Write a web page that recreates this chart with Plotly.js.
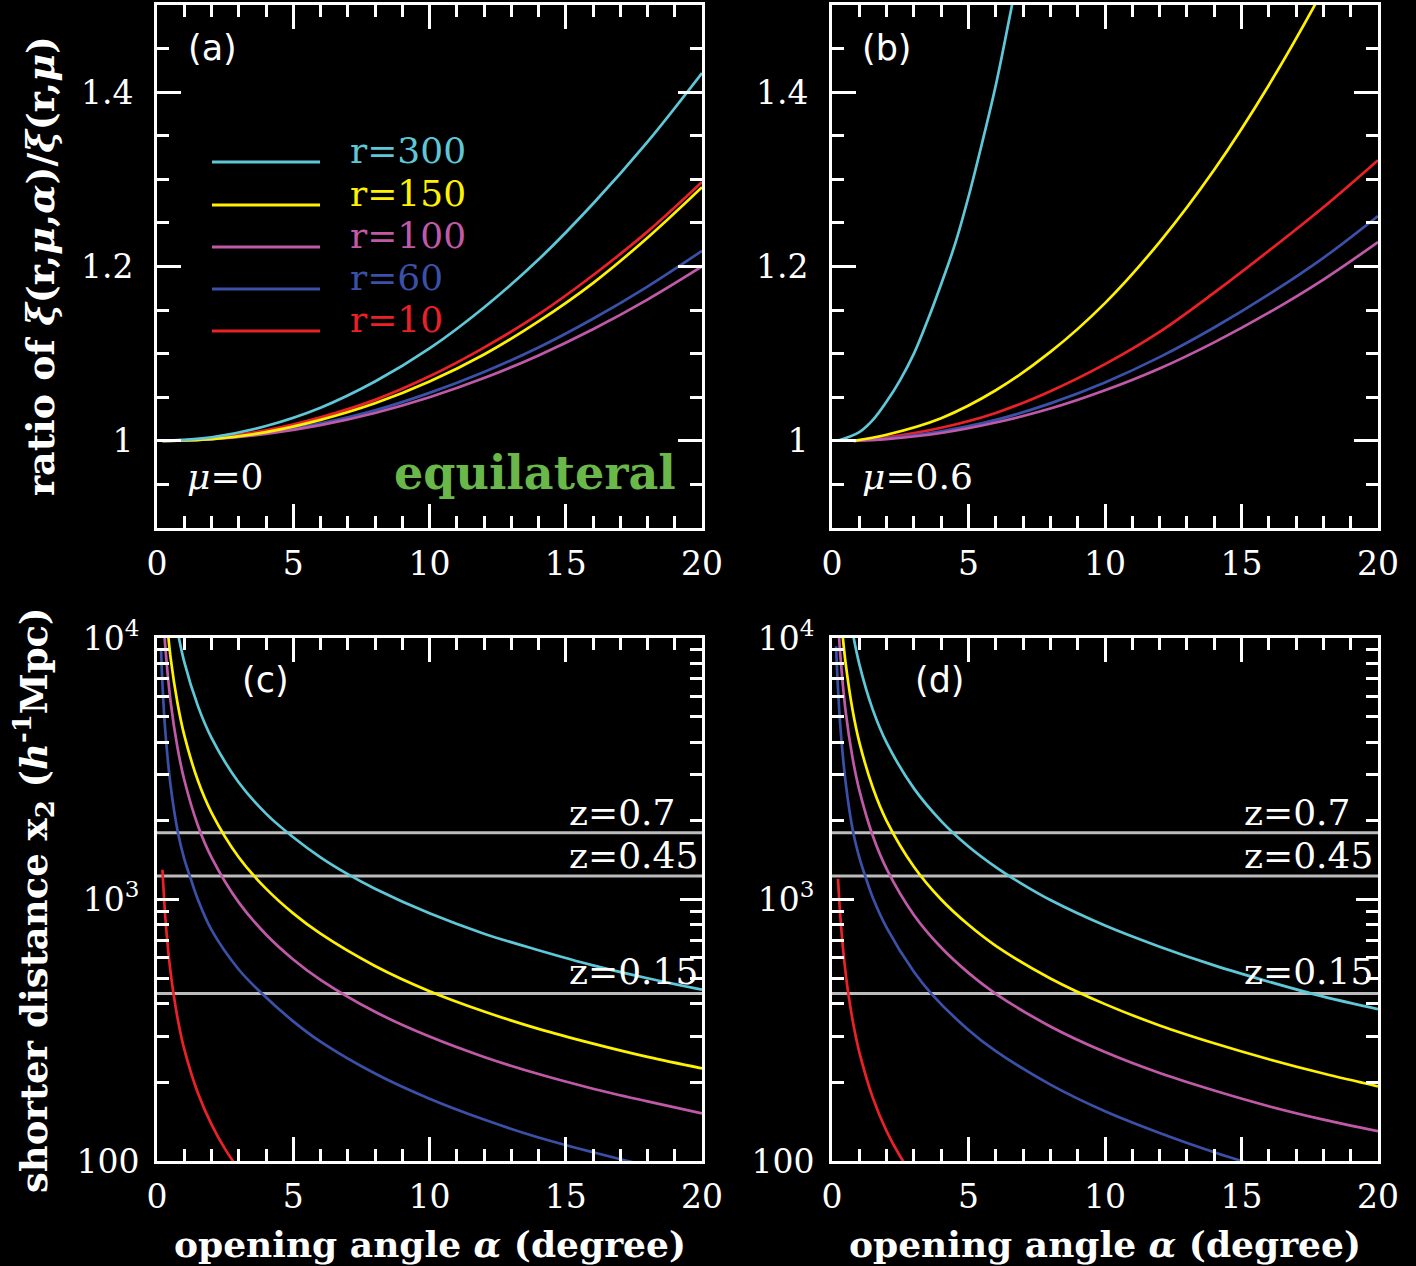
<!DOCTYPE html>
<html><head><meta charset="utf-8">
<script src="https://cdn.plot.ly/plotly-3.0.1.min.js"></script>
<style>html,body{margin:0;padding:0;background:#000;}</style>
</head><body><div id="chart" style="width:1416px;height:1266px;"></div>
<script>
// ---------------- data ----------------
const radiusLabels = ['r=300', 'r=150', 'r=100', 'r=60', 'r=10'];

// panel (a): mu = 0
const alphaA = [0.2, 2, 4, 6, 8, 10, 12, 14, 16, 18, 20];
const ratioA_r300 = [1, 1.004, 1.017, 1.038, 1.068, 1.106, 1.153, 1.208, 1.272, 1.343, 1.422];
const ratioA_r150 = [1, 1.002, 1.010, 1.024, 1.043, 1.068, 1.099, 1.137, 1.181, 1.233, 1.291];
const ratioA_r100 = [1, 1.002, 1.008, 1.018, 1.032, 1.050, 1.072, 1.098, 1.128, 1.162, 1.200];
const ratioA_r60  = [1, 1.002, 1.009, 1.020, 1.035, 1.055, 1.079, 1.107, 1.140, 1.177, 1.218];
const ratioA_r10  = [1, 1.003, 1.012, 1.027, 1.047, 1.074, 1.107, 1.145, 1.190, 1.240, 1.297];

// panel (b): mu = 0.6
const alphaB_r300 = [0.2, 1, 1.5, 2, 2.5, 3, 3.5, 4, 4.5, 5, 5.5, 6, 6.5, 7];
const ratioB_r300 = [1, 1.010, 1.024, 1.045, 1.070, 1.100, 1.138, 1.180, 1.225, 1.280, 1.342, 1.408, 1.485, 1.565];
const alphaB = [0.8, 2, 4, 6, 8, 10, 12, 14, 16, 18, 20];
const ratioB_r150 = [1, 1.007, 1.026, 1.058, 1.102, 1.158, 1.228, 1.311, 1.408, 1.518, 1.640];
const ratioB_r100 = [1, 1.002, 1.009, 1.021, 1.037, 1.058, 1.083, 1.113, 1.147, 1.185, 1.228];
const ratioB_r60  = [1, 1.003, 1.011, 1.024, 1.043, 1.067, 1.096, 1.130, 1.168, 1.210, 1.258];
const ratioB_r10  = [1, 1.004, 1.015, 1.032, 1.057, 1.088, 1.125, 1.170, 1.218, 1.268, 1.322];

// panel (c): shorter distance x2, mu = 0
const alphaC_r300 = [0.7, 1, 1.5, 2, 3, 4, 5, 6, 7, 8, 10, 12, 14, 16, 18, 20];
const distC_r300  = [11400, 8100, 5500, 4150, 2800, 2130, 1730, 1450, 1250, 1100, 885, 740, 640, 560, 500, 452];
const alphaC_r150 = [0.35, 0.5, 0.75, 1, 1.5, 2, 3, 4, 5, 6, 8, 10, 12, 14, 16, 18, 20];
const distC_r150  = [12000, 8400, 5650, 4250, 2850, 2150, 1450, 1100, 885, 740, 557, 446, 373, 320, 281, 250, 226];
const alphaC_r100 = [0.22, 0.3, 0.5, 0.75, 1, 1.5, 2, 3, 4, 5, 6, 8, 10, 12, 14, 16, 18, 20];
const distC_r100  = [12700, 9400, 5700, 3820, 2870, 1920, 1450, 975, 735, 590, 493, 372, 299, 250, 215, 189, 169, 152];
const alphaC_r60  = [0.15, 0.2, 0.3, 0.5, 0.77, 1, 1.25, 1.5, 2, 3, 3.85, 5, 6, 8, 10, 12, 14, 16, 18, 20];
const distC_r60   = [9000, 6650, 4470, 2720, 1800, 1430, 1190, 1000, 765, 540, 437, 342, 286, 216, 173, 144, 123, 108, 96, 87];
const alphaC_r10  = [0.2, 0.3, 0.4, 0.5, 0.6, 0.8, 1, 1.5, 2, 2.5, 3];
const distC_r10   = [1300, 870, 655, 525, 440, 332, 268, 182, 138, 111, 93];

// panel (d): shorter distance x2, mu = 0.6
const alphaD_r300 = [0.7, 1, 1.5, 2, 3, 4, 5, 6, 7, 8, 10, 12, 14, 16, 18, 20];
const distD_r300  = [11300, 7950, 5300, 3980, 2660, 1995, 1595, 1330, 1140, 995, 795, 660, 560, 485, 425, 381];
const alphaD_r150 = [0.38, 0.5, 0.75, 1, 1.5, 2, 3, 4, 5, 6, 8, 10, 12, 14, 16, 18, 20];
const distD_r150  = [10500, 8000, 5330, 4000, 2670, 2000, 1335, 1000, 800, 665, 499, 398, 330, 282, 245, 216, 193];
const alphaD_r100 = [0.23, 0.3, 0.5, 0.75, 1, 1.5, 2, 3, 4, 5, 6, 8, 10, 12, 14, 16, 18, 20];
const distD_r100  = [11400, 8730, 5240, 3490, 2620, 1745, 1310, 873, 655, 524, 436, 327, 261, 217, 186, 162, 144, 130];
const alphaD_r60  = [0.15, 0.2, 0.3, 0.5, 0.77, 1, 1.25, 1.5, 2, 3, 3.65, 5, 6, 8, 10, 12, 14, 15, 16];
const distD_r60   = [9300, 7000, 4670, 2800, 1820, 1450, 1200, 1013, 780, 529, 435, 317, 263, 196, 155, 128, 108, 100, 93];
const alphaD_r10  = [0.22, 0.3, 0.4, 0.5, 0.6, 0.8, 1, 1.5, 2, 2.5, 3];
const distD_r10   = [1200, 875, 655, 523, 435, 326, 261, 174, 130, 104, 87];

// redshift reference distances
const zLabels = ['z=0.7', 'z=0.45', 'z=0.15'];
const zDist = [1800, 1230, 437];
const alphaRange = [0, 20];

// ---------------- styles ----------------
const lineColors = ['#5ec8d8', '#fff200', '#c05aa8', '#3b50a8', '#ec2027'];
const W = 1416, H = 1266;
const px = x => x / W;
const py = y => 1 - y / H;
const serif = 'DejaVu Serif';

const seriesA = [ratioA_r300, ratioA_r150, ratioA_r100, ratioA_r60, ratioA_r10];
const seriesB = [[alphaB_r300, ratioB_r300], [alphaB, ratioB_r150], [alphaB, ratioB_r100], [alphaB, ratioB_r60], [alphaB, ratioB_r10]];
const seriesC = [[alphaC_r300, distC_r300], [alphaC_r150, distC_r150], [alphaC_r100, distC_r100], [alphaC_r60, distC_r60], [alphaC_r10, distC_r10]];
const seriesD = [[alphaD_r300, distD_r300], [alphaD_r150, distD_r150], [alphaD_r100, distD_r100], [alphaD_r60, distD_r60], [alphaD_r10, distD_r10]];

const traces = [];
const order = [4, 3, 2, 1, 0];
const lw = 2.7;
order.forEach(i => {
  traces.push({x: alphaA, y: seriesA[i], xaxis: 'x', yaxis: 'y', mode: 'lines', line: {color: lineColors[i], width: lw, shape: 'spline'}, name: radiusLabels[i], showlegend: false});
});
order.forEach(i => {
  traces.push({x: seriesB[i][0], y: seriesB[i][1], xaxis: 'x2', yaxis: 'y2', mode: 'lines', line: {color: lineColors[i], width: lw, shape: 'spline'}, name: radiusLabels[i], showlegend: false});
});
[['x3', 'y3'], ['x4', 'y4']].forEach(([xa, ya]) => {
  zDist.forEach((d, k) => {
    traces.push({x: alphaRange, y: [d, d], xaxis: xa, yaxis: ya, mode: 'lines', line: {color: '#bcbcbc', width: 3.2}, name: zLabels[k], showlegend: false});
  });
});
order.forEach(i => {
  traces.push({x: seriesC[i][0], y: seriesC[i][1], xaxis: 'x3', yaxis: 'y3', mode: 'lines', line: {color: lineColors[i], width: lw, shape: 'spline'}, name: radiusLabels[i], showlegend: false});
});
order.forEach(i => {
  traces.push({x: seriesD[i][0], y: seriesD[i][1], xaxis: 'x4', yaxis: 'y4', mode: 'lines', line: {color: lineColors[i], width: lw, shape: 'spline'}, name: radiusLabels[i], showlegend: false});
});

const tickFont = {family: serif, size: 33, color: '#fff'};
function xAxis(domain, anchor) {
  return {
    domain: domain, anchor: anchor, range: [0, 20], tickmode: 'linear', tick0: 0, dtick: 5,
    ticks: 'inside', ticklen: 24, tickwidth: 3, tickcolor: '#fff',
    minor: {dtick: 1, ticks: 'inside', ticklen: 12, tickwidth: 3, tickcolor: '#fff', showgrid: false},
    showline: true, linecolor: '#fff', linewidth: 3, mirror: 'ticks',
    showgrid: false, zeroline: false, tickfont: tickFont, ticklabelstandoff: 4
  };
}
function yLinAxis(domain, anchor) {
  return {
    domain: domain, anchor: anchor, range: [0.9, 1.5], tickmode: 'linear', tick0: 1, dtick: 0.2,
    ticks: 'inside', ticklen: 24, tickwidth: 3, tickcolor: '#fff',
    minor: {dtick: 0.05, tick0: 1, ticks: 'inside', ticklen: 12, tickwidth: 3, tickcolor: '#fff', showgrid: false},
    showline: true, linecolor: '#fff', linewidth: 3, mirror: 'ticks',
    showgrid: false, zeroline: false, tickfont: tickFont, ticklabelstandoff: 14
  };
}
function yLogAxis(domain, anchor) {
  return {
    domain: domain, anchor: anchor, type: 'log', range: [2, 4],
    tickmode: 'array', tickvals: [100, 1000, 10000], ticktext: ['100', '10<sup>3</sup>', '10<sup>4</sup>'],
    ticks: 'inside', ticklen: 22, tickwidth: 3, tickcolor: '#fff',
    minor: {dtick: 'D1', ticks: 'inside', ticklen: 12, tickwidth: 3, tickcolor: '#fff', showgrid: false},
    showline: true, linecolor: '#fff', linewidth: 3, mirror: 'ticks',
    showgrid: false, zeroline: false, tickfont: tickFont, ticklabelstandoff: 8
  };
}

const colL = [px(157), px(702)], colR = [px(832), px(1378)];
const rowT = [py(528), py(5)], rowB = [py(1161), py(638)];

const annotations = [];
function ann(text, x, y, opts) {
  annotations.push(Object.assign({text: text, x: px(x), y: py(y), xref: 'paper', yref: 'paper', showarrow: false,
    xanchor: 'center', yanchor: 'middle', font: {family: serif, size: 35, color: '#fff'}}, opts || {}));
}
const sans = {family: 'DejaVu Sans', size: 35, color: '#fff'};
ann('(a)', 212, 48, {font: sans});
ann('(b)', 887, 48, {font: sans});
ann('(c)', 265, 680, {font: sans});
ann('(d)', 940, 680, {font: sans});
ann('<i>μ</i>=0', 185, 476, {xanchor: 'left', font: {family: serif, size: 36, color: '#fff'}});
ann('<i>μ</i>=0.6', 860, 476, {xanchor: 'left', font: {family: serif, size: 36, color: '#fff'}});
ann('<b>equilateral</b>', 535, 473, {font: {family: serif, size: 46, color: '#6ab84a'}});

const legendY = [150, 193, 235, 277, 319];
const shapes = [];
radiusLabels.forEach((lab, i) => {
  ann(lab, 348, legendY[i], {xanchor: 'left', font: {family: serif, size: 36, color: lineColors[i]}});
  shapes.push({type: 'line', xref: 'paper', yref: 'paper', x0: px(212), x1: px(320), y0: py(legendY[i] + 12), y1: py(legendY[i] + 12), line: {color: lineColors[i], width: 3}});
});
const zLabY = [812, 856, 971];
zLabels.forEach((lab, k) => {
  ann(lab, 567, zLabY[k], {xanchor: 'left', font: {family: serif, size: 36, color: '#fff'}});
  ann(lab, 1242, zLabY[k], {xanchor: 'left', font: {family: serif, size: 36, color: '#fff'}});
});
ann('<b>ratio of <i>ξ</i>(r,<i>μ</i>,<i>α</i>)/<i>ξ</i>(r,<i>μ</i>)</b>', 40, 266, {textangle: -90, font: {family: serif, size: 38, color: '#fff'}});
ann('<b>shorter distance x<sub>2</sub> (<i>h</i><sup>-1</sup>Mpc)</b>', 33, 900, {textangle: -90, font: {family: serif, size: 37, color: '#fff'}});
ann('<b>opening angle <i>α</i> (degree)</b>', 430, 1244, {font: {family: serif, size: 36, color: '#fff'}});
ann('<b>opening angle <i>α</i> (degree)</b>', 1105, 1244, {font: {family: serif, size: 36, color: '#fff'}});

const layout = {
  width: W, height: H, margin: {l: 0, r: 0, t: 0, b: 0},
  paper_bgcolor: '#000', plot_bgcolor: '#000', showlegend: false,
  xaxis: xAxis(colL, 'y'), yaxis: yLinAxis(rowT, 'x'),
  xaxis2: xAxis(colR, 'y2'), yaxis2: yLinAxis(rowT, 'x2'),
  xaxis3: xAxis(colL, 'y3'), yaxis3: yLogAxis(rowB, 'x3'),
  xaxis4: xAxis(colR, 'y4'), yaxis4: yLogAxis(rowB, 'x4'),
  annotations: annotations, shapes: shapes
};
Plotly.newPlot('chart', traces, layout, {staticPlot: true});
</script>
</body></html>
